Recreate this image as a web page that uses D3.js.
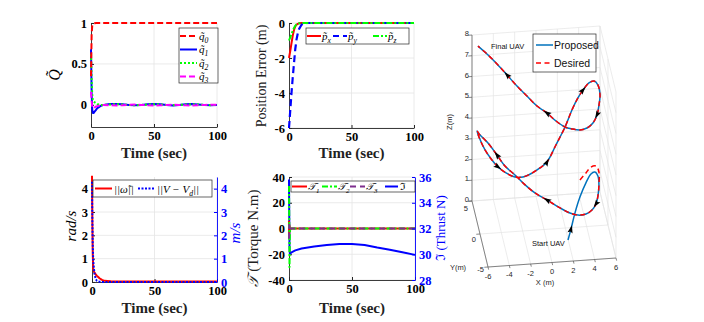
<!DOCTYPE html>
<html><head><meta charset="utf-8">
<script src="https://cdn.jsdelivr.net/npm/d3@7/dist/d3.min.js"></script>
<style>html,body{margin:0;padding:0;background:#fff;overflow:hidden}</style>
</head><body>
<svg id="chart" width="704" height="322" xmlns="http://www.w3.org/2000/svg"></svg>
<script>
// ================= DATA =================
const timeTicks = [0, 50, 100];

// Panel 1: quaternion error
const tQ = [0,0.5,1,1.5,2,3,4,5,6,8,10,15,20,25,30,35,40,45,50,55,60,65,70,75,80,85,90,95,100];
const q0 = [0.35,0.86,0.97,0.99,0.995,0.998,1,1,1,1,1,1,1,1,1,1,1,1,1,1,1,1,1,1,1,1,1,1,1];
const q1 = [0.68,0.15,-0.06,-0.1,-0.1,-0.08,-0.06,-0.04,-0.03,-0.01,0,0.01,0.012,0.008,0,-0.005,0,0.008,0.012,0.008,0,-0.006,0,0.008,0.01,0.006,0,-0.004,0];
const q2 = [0.62,0.3,0.12,0.06,0.04,0.03,0.02,0.01,0.005,0,0,0.005,0.008,0.005,0,-0.005,0,0.005,0.008,0.005,0,-0.004,0,0.005,0.007,0.004,0,-0.003,0];
const q3 = [0.16,0.05,-0.03,-0.04,-0.04,-0.03,-0.02,-0.015,-0.01,-0.005,0,-0.005,-0.008,-0.005,0,0.005,0,-0.005,-0.008,-0.005,0,0.004,0,-0.005,-0.007,-0.004,0,0.003,0];
const qTicks = [0, 0.5, 1];

// Panel 2: position error
const tP = [0,1,2,3,4,5,6,7,8,10,12,15,100];
const pX = [-2,-1.6,-1.15,-0.72,-0.4,-0.2,-0.1,-0.05,-0.02,0,0,0,0];
const pY = [-6,-5,-4,-3.1,-2.3,-1.5,-0.95,-0.6,-0.35,-0.1,-0.02,0,0];
const pZ = [-1,-0.82,-0.63,-0.45,-0.28,-0.16,-0.08,-0.04,-0.02,0,0,0,0];
const pTicks = [-6, -4, -2, 0];

// Panel 3: angular velocity / velocity error norms
const tW = [0,0.3,0.6,1,1.5,2,3,4,5,6,8,10,15,20,30,40,50,60,70,80,90,100];
const omegaNorm = [4.55,2.5,1.2,0.55,0.45,0.4,0.32,0.26,0.21,0.16,0.09,0.05,0.03,0.02,0.02,0.025,0.02,0.02,0.025,0.02,0.02,0.02];
const velErr = [4.3,2.6,1.6,0.9,0.6,0.35,0.12,0.05,0.02,0.01,0,0,0,0,0,0,0,0,0,0,0,0];
const wTicks = [0, 1, 2, 3, 4];
const vTicks = [0, 1, 2, 3, 4];

// Panel 4: torques and thrust
const tT = [0,0.2,0.4,0.7,1,2,5,10,20,30,40,50,60,70,80,90,100];
const tau1 = [6,-4,2,0,0,0,0,0,0,0,0,0,0,0,0,0,0];
const tau2 = [33,8,-30,-4,0,0,0,0,0,0,0,0,0,0,0,0,0];
const tau3 = [-8,3,-1,0,0,0,0,0,0,0,0,0,0,0,0,0,0];
const thrust = [35.8,33,30.6,30.0,30.05,30.15,30.3,30.45,30.6,30.72,30.8,30.8,30.72,30.52,30.35,30.15,29.95];
const tauTicks = [-40, -20, 0, 20, 40];
const thrustTicks = [28, 30, 32, 34, 36];

// Panel 5: 3D trajectory (X, Y, Z in m)
const trajX = [1.65,2.08,2.68,3.37,4.08,4.70,5.12,5.28,5.15,4.80,4.44,3.93,3.26,2.48,1.76,0.90,-0.20,-1.21,-2.10,-2.81,-3.60,-4.20,-4.89,-5.52,-5.77,-5.75,-5.50,-5.09,-4.70,-4.10,-3.38,-2.66,-1.77,-0.95,-0.20,0.82,1.88,2.71,3.39,3.95,4.59,5.09,5.36,5.31,4.99,4.58,4.02,3.35,2.65,1.93,1.32,0.60,-0.13,-0.94,-1.73,-2.52,-3.30,-4.09,-4.88,-5.59];
const trajY = [-4,-3,-1.5,0,1,2,2.3,1.5,0,-1.7,-2.9,-3.8,-4.5,-4.7,-4.5,-4,-3.2,-2.4,-1.5,-0.6,0.4,1.4,2.4,3.2,3.4,2.3,0.2,-1.4,-2.6,-3.6,-4.4,-4.6,-4.3,-3.8,-3.2,-2,-0.6,0.6,1.4,2,2.5,2.7,2,0.4,-1.1,-2.6,-3.8,-4.5,-4.8,-4.6,-4.3,-3.5,-2.7,-1.9,-0.9,0.1,1.1,2.1,3.1,4];
const trajZ = [0.71,0.90,1.18,1.44,1.78,1.87,1.85,1.91,1.96,1.98,1.99,2.01,2.06,2.10,2.16,2.28,2.45,2.57,2.75,2.92,3.06,3.30,3.58,3.74,3.87,3.93,3.97,3.98,4.01,4.02,4.05,4.09,4.15,4.21,4.28,4.68,5.06,5.47,5.77,5.94,6.10,6.11,6.13,6.16,6.17,6.18,6.20,6.20,6.23,6.24,6.26,6.32,6.48,6.59,6.78,6.97,7.22,7.46,7.65,7.77];
// desired: own first points, then coincides with the proposed path
const desHeadX = [3.67,4.28,4.85,5.34,5.45];
const desHeadY = [2,2.3,3,3.1,2];
const desHeadZ = [1.62,1.84,1.88,1.88,1.94];
const desJoin = 8;
const arrowIdx = [1,10,16,21,28,34,39,45,52,56];
const xTicks3 = [-6,-4,-2,0,2,4,6];
const yTicks3 = [-5,0,5];
const zTicks3 = [0,1,2,3,4,5,6,7,8];

// ================= DRAWING =================
const svg = d3.select('#chart');
const SERIF = "'Liberation Serif','DejaVu Serif','Times New Roman',serif";
const SANS = "'Liberation Sans',Arial,Helvetica,sans-serif";
const GRID = '#e4e4e4';
let clipCount = 0;

function styleAxis(a, color) {
  a.select('.domain').attr('stroke', color).attr('stroke-width', 0.9);
  a.selectAll('.tick line').attr('stroke', color);
  a.selectAll('text').attr('font-family', SERIF).attr('font-weight', 'bold').attr('font-size', 12.5)
    .attr('fill', color === '#262626' ? '#000' : color);
}

function panel(p) {
  const g = svg.append('g');
  const x = d3.scaleLinear().domain([0, 100]).range([p.x0, p.x1]);
  const y = d3.scaleLinear().domain(p.yDom).range([p.yB, p.yT]);
  g.append('g').selectAll('line.gx').data(timeTicks.filter(d => d > 0)).join('line').attr('class','gx')
    .attr('x1', d => x(d)).attr('x2', d => x(d)).attr('y1', p.yB).attr('y2', p.yT)
    .attr('stroke', GRID).attr('stroke-width', 0.8);
  g.append('g').selectAll('line.gy').data(p.yTicks).join('line').attr('class','gy')
    .attr('x1', p.x0).attr('x2', p.x1).attr('y1', d => y(d)).attr('y2', d => y(d))
    .attr('stroke', GRID).attr('stroke-width', 0.8);
  const xa = g.append('g').attr('transform', `translate(0,${p.yB})`)
    .call(d3.axisBottom(x).tickValues(timeTicks).tickSizeInner(-3).tickSizeOuter(0).tickPadding(4).tickFormat(d => d));
  const ya = g.append('g').attr('transform', `translate(${p.x0},0)`)
    .call(d3.axisLeft(y).tickValues(p.yTicks).tickSizeInner(-3).tickSizeOuter(0).tickPadding(4).tickFormat(d => d));
  styleAxis(xa, '#262626');
  styleAxis(ya, '#262626');
  g.append('text').attr('x', (p.x0 + p.x1) / 2).attr('y', p.xlabY).attr('text-anchor', 'middle')
    .attr('font-family', SERIF).attr('font-size', 15).attr('font-weight', 'bold').attr('fill', '#222').text('Time (sec)');
  const id = 'clp' + (clipCount++);
  svg.append('clipPath').attr('id', id).append('rect')
    .attr('x', p.x0 - 1).attr('y', p.yT - 3).attr('width', p.x1 - p.x0 + 3).attr('height', p.yB - p.yT + 4);
  const lines = g.append('g').attr('clip-path', `url(#${id})`);
  return { g, x, y, lines };
}

function drawSeries(P, ts, vs, color, dash, width, yScale) {
  const ys = yScale || P.y;
  P.lines.append('path').datum(ts.map((t, i) => [t, vs[i]]))
    .attr('fill', 'none').attr('stroke', color).attr('stroke-width', width || 2)
    .attr('stroke-dasharray', dash || null).attr('stroke-linejoin', 'round')
    .attr('d', d3.line().x(d => P.x(d[0])).y(d => ys(d[1])));
}

function legendBox(g, x, y, w, h) {
  g.append('rect').attr('x', x).attr('y', y).attr('width', w).attr('height', h)
    .attr('fill', '#fff').attr('stroke', '#262626').attr('stroke-width', 0.7);
}
function legLine(g, x1, x2, y, color, dash, w) {
  g.append('line').attr('x1', x1).attr('x2', x2).attr('y1', y).attr('y2', y)
    .attr('stroke', color).attr('stroke-width', w || 2).attr('stroke-dasharray', dash || null);
}
// parts: [text, 'n' | 'sub' | 'up']
function mathText(g, x, y, parts, size, color, anchor) {
  const t = g.append('text').attr('x', x).attr('y', y).attr('font-family', SERIF)
    .attr('font-size', size).attr('font-style', 'italic').attr('fill', color || '#000')
    .attr('text-anchor', anchor || 'start');
  let shift = 0;
  parts.forEach(([s, k]) => {
    const want = k === 'sub' ? size * 0.3 : 0;
    const ts = t.append('tspan').attr('dy', want - shift).text(s);
    if (k === 'sub') ts.attr('font-size', size * 0.7);
    if (k === 'up') ts.attr('font-style', 'normal');
    shift = want;
  });
  return t;
}
function rotLabel(x, y, parts, size, color, italic) {
  const g = svg.append('g').attr('transform', `translate(${x},${y}) rotate(-90)`);
  const t = mathText(g, 0, 0, parts, size, color, 'middle');
  if (!italic) t.attr('font-style', 'normal');
  return t;
}

// ---- Panel 1
const P1 = panel({ x0: 91, x1: 217, yT: 23, yB: 127, yDom: [-0.27, 1], yTicks: qTicks, xlabY: 158 });
drawSeries(P1, tQ, q1, '#0000ff', null, 2);
drawSeries(P1, tQ, q2, '#00ff00', '2,2', 2);
drawSeries(P1, tQ, q3, '#ff00ff', '6,3', 2);
drawSeries(P1, tQ, q0, '#ff0000', '6,3', 2);
rotLabel(60, 75, [['Q\u0303', 'n']], 16, '#000', true);
legendBox(P1.g, 179, 28, 39, 55);
[['#ff0000','6,3','0'],['#0000ff',null,'1'],['#00ff00','2,2','2'],['#ff00ff','6,3','3']].forEach((e, i) => {
  const yy = 36 + i * 13.5;
  legLine(P1.g, 180, 197, yy, e[0], e[1], 2);
  mathText(P1.g, 199, yy + 3.5, [['q\u0303', 'n'], [e[2], 'sub']], 11, '#000');
});

// ---- Panel 2
const P2 = panel({ x0: 289, x1: 414, yT: 23, yB: 128, yDom: [-6, 0], yTicks: pTicks, xlabY: 158 });
drawSeries(P2, tP, pX, '#ff0000', null, 2);
drawSeries(P2, tP, pY, '#0000ff', '7,4', 2.2);
drawSeries(P2, tP, pZ, '#00ff00', '6,2,2,2', 2);
rotLabel(266, 76, [['Position Error (m)', 'up']], 14, '#222', false);
legendBox(P2.g, 306, 28, 103, 16);
[['#ff0000',null,'x',307],['#0000ff','6,4','y',333],['#00ff00','6,2,2,2','z',373]].forEach(e => {
  legLine(P2.g, e[3], e[3] + 14, 36, e[0], e[1], 2);
  mathText(P2.g, e[3] + 15, 40, [['p\u0303', 'n'], [e[2], 'sub']], 11, '#000');
});

// ---- Panel 3
const P3 = panel({ x0: 92, x1: 217, yT: 177, yB: 282, yDom: [0, 4.5], yTicks: wTicks, xlabY: 313 });
const y3r = d3.scaleLinear().domain([0, 4.5]).range([282, 177]);
const ra3 = P3.g.append('g').attr('transform', 'translate(217,0)')
  .call(d3.axisRight(y3r).tickValues(vTicks).tickSizeInner(-3).tickSizeOuter(0).tickPadding(4).tickFormat(d => d));
styleAxis(ra3, '#0000ff');
drawSeries(P3, tW, omegaNorm, '#ff0000', null, 2);
drawSeries(P3, tW, velErr, '#0000ff', '2,1.5', 2, y3r);
rotLabel(76, 226, [['rad/s', 'n']], 15, '#000', true);
rotLabel(240, 233, [['m/s', 'n']], 15, '#0000ff', true);
legendBox(P3.g, 93, 180, 119, 17);
legLine(P3.g, 95, 112, 188.5, '#ff0000', null, 2);
mathText(P3.g, 114, 192.5, [['||\u03c9\u0303||', 'n']], 11, '#000');
legLine(P3.g, 138, 155, 188.5, '#0000ff', '2,1.5', 2);
mathText(P3.g, 157, 192.5, [['||V \u2212 V', 'n'], ['d', 'sub'], ['||', 'n']], 11, '#000');

// ---- Panel 4
const P4 = panel({ x0: 289, x1: 415, yT: 177, yB: 280, yDom: [-40, 40], yTicks: tauTicks, xlabY: 313 });
const y4r = d3.scaleLinear().domain([28, 36]).range([280, 177]);
const ra4 = P4.g.append('g').attr('transform', 'translate(415,0)')
  .call(d3.axisRight(y4r).tickValues(thrustTicks).tickSizeInner(-3).tickSizeOuter(0).tickPadding(4).tickFormat(d => d));
styleAxis(ra4, '#0000ff');
drawSeries(P4, tT, thrust, '#0000ff', null, 2, y4r);
drawSeries(P4, tT, tau1, '#ff0000', null, 2);
drawSeries(P4, tT, tau2, '#00ff00', '6,2,2,2', 2);
drawSeries(P4, tT, tau3, '#7e2f8e', '6,4', 2);
rotLabel(258, 238, [['\ud835\udcaf', 'n'], [' (Torque N.m)', 'up']], 15, '#222', true);
rotLabel(445, 228, [['\u2111 (Thrust N)', 'up']], 13, '#0000ff', false);
legendBox(P4.g, 291, 181, 124, 11);
[['#ff0000',null,'1',292],['#00ff00','6,2,2,2','2',322],['#7e2f8e','6,4','3',350]].forEach(e => {
  legLine(P4.g, e[3], e[3] + 15, 186.5, e[0], e[1], 2);
  mathText(P4.g, e[3] + 16, 190, [['\ud835\udcaf', 'n'], [e[2], 'sub']], 10, '#000');
});
legLine(P4.g, 385, 398, 186.5, '#0000ff', null, 2);
mathText(P4.g, 400, 190, [['\u2111', 'up']], 10, '#000');

// ---- Panel 5: 3D trajectory (oblique projection through linear scales)
const O3 = [488, 267];
const hX = d3.scaleLinear().domain([-6, 6]).range([0, 128]);
const vX = d3.scaleLinear().domain([-6, 6]).range([0, -9]);
const hY = d3.scaleLinear().domain([-5, 5]).range([0, -16]);
const vY = d3.scaleLinear().domain([-5, 5]).range([0, -66]);
const vZ = d3.scaleLinear().domain([0, 8]).range([0, -166]);
const proj = (X, Y, Z) => [O3[0] + hX(X) + hY(Y), O3[1] + vX(X) + vY(Y) + vZ(Z)];
const g3 = svg.append('g');
const seg = (a, b, color, w) => {
  const p = proj(...a), q = proj(...b);
  g3.append('line').attr('x1', p[0]).attr('y1', p[1]).attr('x2', q[0]).attr('y2', q[1])
    .attr('stroke', color).attr('stroke-width', w);
};
// grid on back planes
xTicks3.forEach(X => { seg([X, 5, 0], [X, 5, 8], GRID, 0.7); seg([X, -5, 0], [X, 5, 0], GRID, 0.7); });
zTicks3.forEach(Z => { seg([-6, 5, Z], [6, 5, Z], GRID, 0.7); seg([6, -5, Z], [6, 5, Z], GRID, 0.7); });
yTicks3.forEach(Y => { seg([-6, Y, 0], [6, Y, 0], GRID, 0.7); seg([6, Y, 0], [6, Y, 8], GRID, 0.7); });
// axes
const AX = '#555';
seg([-6, 5, 0], [-6, 5, 8], AX, 0.7);
seg([-6, -5, 0], [-6, 5, 0], AX, 0.7);
seg([-6, -5, 0], [6, -5, 0], AX, 0.7);
const tick3 = (x, y, s, anchor) => g3.append('text').attr('x', x).attr('y', y).attr('text-anchor', anchor || 'middle')
  .attr('font-family', SANS).attr('font-size', 7.5).attr('fill', '#262626').text(s);
xTicks3.forEach(X => { seg([X, -5, 0], [X, -5.4, 0], AX, 0.7); const p = proj(X, -5, 0); tick3(p[0], p[1] + 11.5, X); });
yTicks3.forEach(Y => { seg([-6, Y, 0], [-6.35, Y, 0], AX, 0.7); const p = proj(-6, Y, 0); tick3(p[0] - 4, p[1] + 7.5 + 0.5 * Y, Y, 'end'); });
zTicks3.forEach(Z => { seg([-6, 5, Z], [-6.35, 5, Z], AX, 0.7); const p = proj(-6, 5, Z); tick3(p[0] - 3, p[1] + 1, Z, 'end'); });
tick3(545, 285, 'X (m)');
tick3(458, 270, 'Y(m)');
g3.append('text').attr('transform', 'translate(452,122) rotate(-90)').attr('text-anchor', 'middle')
  .attr('font-family', SANS).attr('font-size', 7.5).attr('fill', '#262626').text('Z(m)');
// trajectories
const trajPts = trajX.map((x, i) => proj(x, trajY[i], trajZ[i]));
const desPts = desHeadX.map((x, i) => proj(x, desHeadY[i], desHeadZ[i]))
  .concat(trajX.slice(desJoin).map((x, i) => proj(x, trajY[i + desJoin], trajZ[i + desJoin])));
const line3 = d3.line().curve(d3.curveCatmullRom.alpha(0.5));
g3.append('path').attr('d', line3(trajPts)).attr('fill', 'none').attr('stroke', '#0072bd').attr('stroke-width', 1.5);
g3.append('path').attr('d', line3(desPts)).attr('fill', 'none').attr('stroke', '#ff0000').attr('stroke-width', 1.5).attr('stroke-dasharray', '5,3.5');
arrowIdx.forEach(i => {
  const a = trajPts[i], b = trajPts[i + 1];
  const ang = Math.atan2(b[1] - a[1], b[0] - a[0]) * 180 / Math.PI;
  g3.append('path').attr('transform', `translate(${a[0]},${a[1]}) rotate(${ang})`)
    .attr('d', 'M4,0 L-4,-2.6 L-2.5,0 L-4,2.6 Z').attr('fill', '#000');
});
g3.append('text').attr('x', 491).attr('y', 49).attr('font-family', SANS).attr('font-size', 7.5).attr('fill', '#111').text('Final UAV');
g3.append('text').attr('x', 532).attr('y', 246).attr('font-family', SANS).attr('font-size', 7.5).attr('fill', '#111').text('Start UAV');
// legend
legendBox(g3, 533, 34, 63, 38);
legLine(g3, 536, 553, 45, '#0072bd', null, 1.5);
g3.append('text').attr('x', 554).attr('y', 49).attr('font-family', SANS).attr('font-size', 10.5).attr('fill', '#111').text('Proposed');
legLine(g3, 536, 553, 63, '#ff0000', '5,3.5', 1.5);
g3.append('text').attr('x', 554).attr('y', 67).attr('font-family', SANS).attr('font-size', 10.5).attr('fill', '#111').text('Desired');
</script>
</body></html>
